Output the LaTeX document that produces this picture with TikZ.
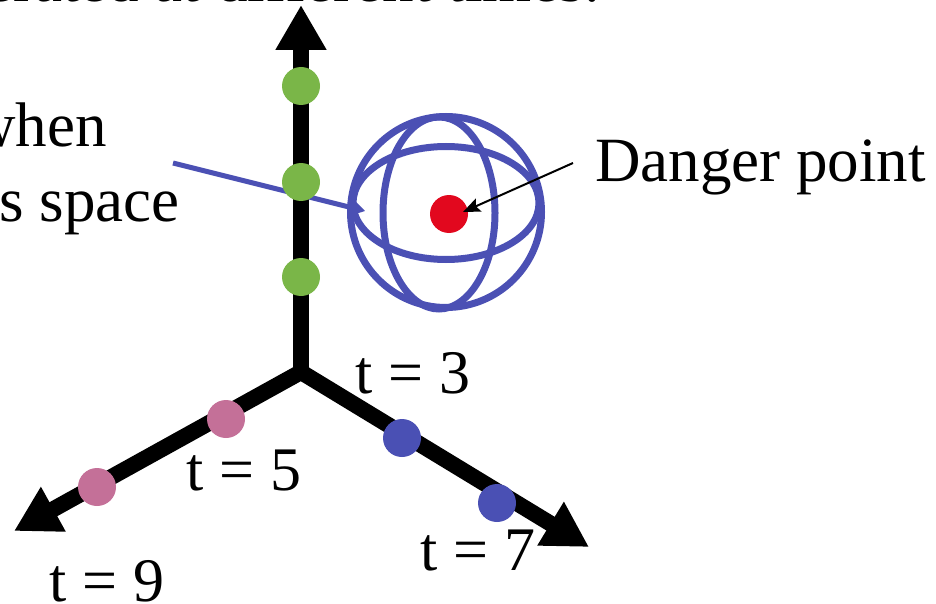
\documentclass[tikz,border=0pt]{standalone}
\usepackage{fontspec}
\setmainfont{Liberation Serif}
\usetikzlibrary{arrows.meta}
\definecolor{sphblue}{RGB}{75,80,180}
\definecolor{dotgreen}{RGB}{122,182,72}
\definecolor{dotpink}{RGB}{196,112,152}
\definecolor{dotblue}{RGB}{74,80,180}
\definecolor{dotred}{RGB}{226,8,30}
\begin{document}
\begin{tikzpicture}[x=1pt,y=-1pt,
  lbl/.style={inner sep=0pt, anchor=base, font=\fontsize{63}{72}\selectfont},
  tlbl/.style={inner sep=0pt, anchor=base, font=\fontsize{62}{72}\selectfont},
  dotnode/.style={circle, inner sep=0pt, minimum size=38pt},
  axisline/.style={line width=16pt, black, line join=miter},
  sph/.style={draw=sphblue, line width=7pt}]
\useasboundingbox (0,0) rectangle (936,604);
\clip (0,0) rectangle (936,604);

% texts
\node[lbl, anchor=base east] (toptext) at (600,1.5) {generated at different times.};
\node[lbl, anchor=base east] (when) at (107,147) {when};
\node[lbl, anchor=base east] (space) at (180,221) {s space};
\node[lbl, anchor=base west] (dp) at (595,182) {Danger point};

% axes
\coordinate (O) at (301,372);
\coordinate (top) at (301,5);
\coordinate (tl) at (14,531);
\coordinate (tr) at (589,547);
\draw[axisline, -{Triangle[length=45pt,width=48pt]}] (O) -- (top);
\draw[axisline, {Triangle[length=45pt,width=48pt]}-{Triangle[length=45pt,width=48pt]}] (tl) -- (O) -- (tr);

% sphere
\node[circle, sph, minimum size=191pt, inner sep=0pt] (sphere) at (446,212) {};
\draw[sph] (446,203) ellipse[x radius=93, y radius=56.5];
\draw[sph] (439,213) ellipse[x radius=56, y radius=96];
\node[dotnode, fill=dotred] (red) at (449,214) {};

% connector from the left text to the sphere
\coordinate (ls) at (173,163);
\coordinate (le) at (365,211);
\draw[sphblue, line width=5pt, -{Stealth[length=14pt,width=17pt,inset=4pt]}] (ls) -- (le);

% danger arrow
\coordinate (dps) at (573,163);
\coordinate (dpe) at (463,212);
\draw[black, line width=2pt, -{Stealth[length=17pt,width=14pt,inset=3pt]}] (dps) -- (dpe);

% dots
\node[dotnode, fill=dotgreen] (g1) at (301,86) {};
\node[dotnode, fill=dotgreen] (g2) at (301,182) {};
\node[dotnode, fill=dotgreen] (g3) at (301,277) {};
\node[dotnode, fill=dotpink] (p1) at (226,419) {};
\node[dotnode, fill=dotpink] (p2) at (97,487) {};
\node[dotnode, fill=dotblue] (b1) at (402,438) {};
\node[dotnode, fill=dotblue] (b2) at (497,503) {};

% time labels
\node[tlbl] (t3) at (413,393) {t = 3};
\node[tlbl] (t5) at (244,490) {t = 5};
\node[tlbl] (t7) at (478,570) {t = 7};
\node[tlbl] (t9) at (107,601) {t = 9};
\end{tikzpicture}
\end{document}
